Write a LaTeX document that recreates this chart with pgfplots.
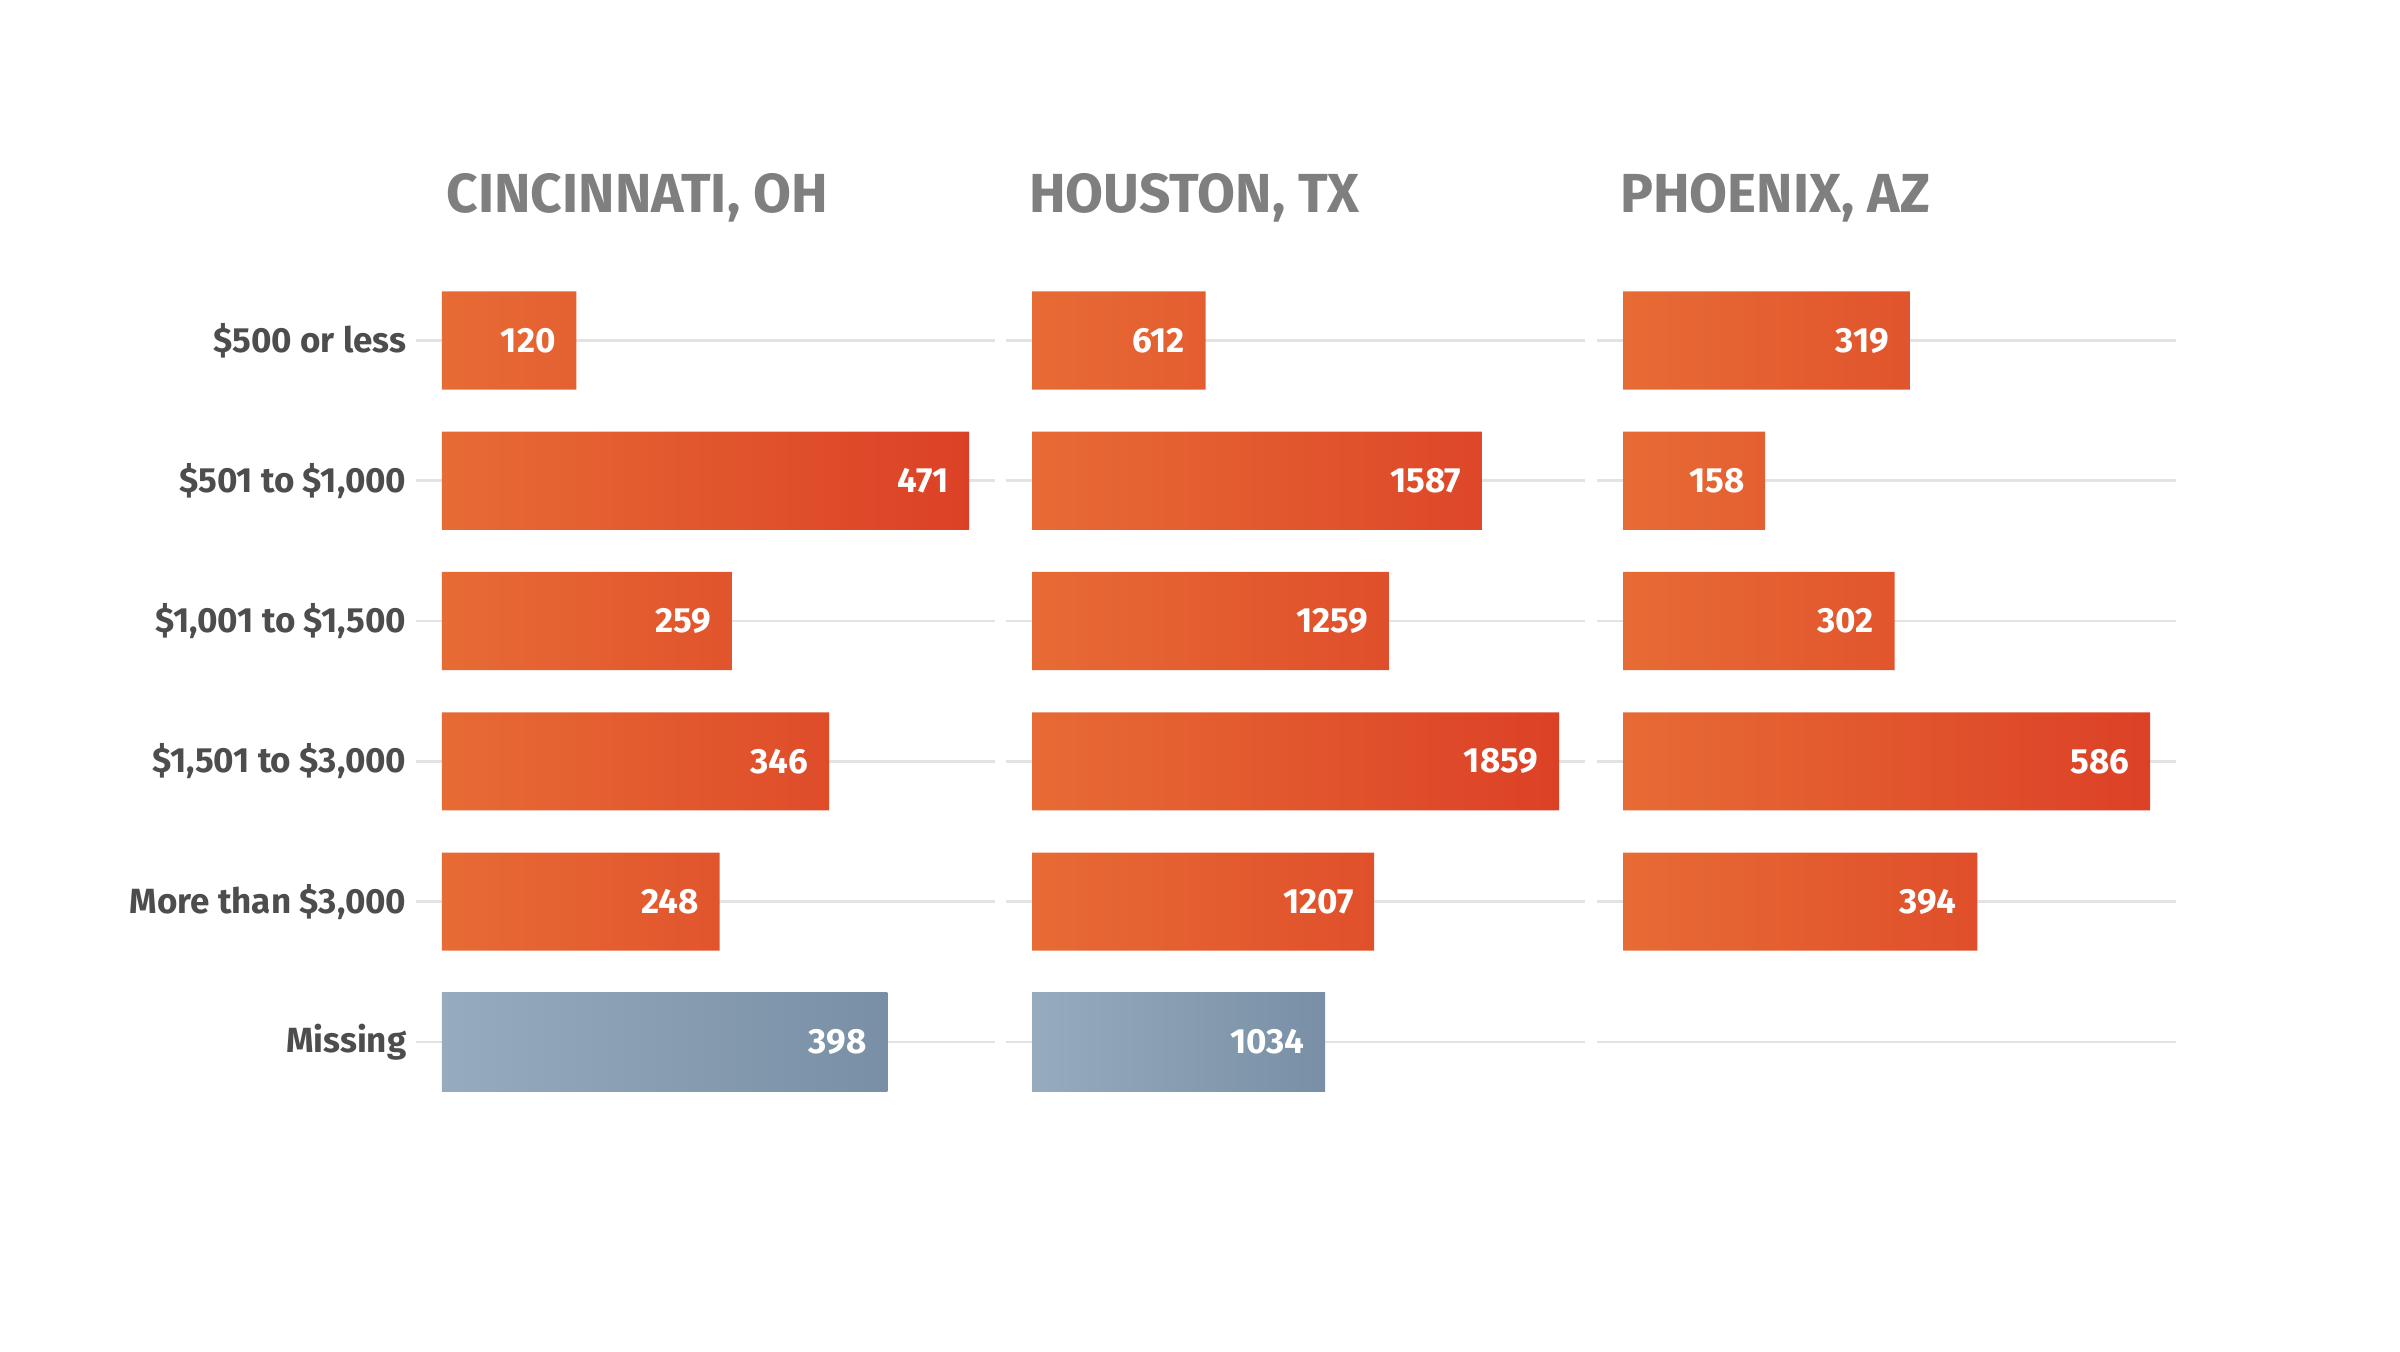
\documentclass[border=0pt]{standalone}
\usepackage{fontspec}
\setmainfont{Fira Sans}
\usepackage{pgfplots}
\pgfplotsset{compat=1.18}

\definecolor{barL}{HTML}{E76B35}
\definecolor{barR}{HTML}{DC4126}
\definecolor{misL}{HTML}{97ABBE}
\definecolor{misR}{HTML}{788FA5}
\definecolor{gridgray}{HTML}{E3E3E3}
\definecolor{labgray}{HTML}{4D4D4D}
\definecolor{titgray}{HTML}{7F7F7F}

% one px of the 2400x1352 reference = 0.3pt
\pgfplotsset{
  panel/.style={
    scale only axis,
    width=173.7pt, height=252.5pt,
    anchor=north west,
    xbar, bar width=0.7,
    y dir=reverse,
    ymin=-0.5, ymax=5.5,
    ytick={0,1,2,3,4,5},
    xtick=\empty,
    ymajorgrids,
    grid style={draw=gridgray, line width=0.8pt},
    axis line style={draw=none},
    tick style={draw=none},
    clip=false,
    yticklabel style={inner sep=0pt, xshift=1.6pt, font=\fontsize{10.5}{12}\selectfont\bfseries, text=labgray},
    nodes near coords,
    point meta=x,
    every node near coord/.append style={anchor=east, inner sep=0pt, xshift=-6pt, text=white,
      font=\fontsize{10.5}{12}\selectfont\bfseries,
      /pgf/number format/.cd, fixed, precision=0, 1000 sep={}, assume math mode=true},
  },
  orange bars/.style={draw=none, bar shift=0pt, left color=barL, right color=barR},
  blue bars/.style={draw=none, bar shift=0pt, left color=misL, right color=misR},
}
\newcommand{\paneltitle}[2]{\node[anchor=base west, inner sep=0pt, xshift=#1, yshift=17.3pt,
  text=titgray, font=\fontsize{16.5}{18}\selectfont\bfseries] at (axis cs:0,-0.5) {#2};}

\begin{document}
\begin{tikzpicture}
\useasboundingbox (0,0) rectangle (720pt,-405.6pt);

\begin{axis}[panel, at={(124.8pt,-81.12pt)},
    xmin=-23.2, xmax=494.2,
    yticklabels={\$500 or less, \$501 to \$1{,}000, \$1{,}001 to \$1{,}500,
                 \$1{,}501 to \$3{,}000, More than \$3{,}000, Missing}]
  \addplot[orange bars] coordinates {(120,0) (471,1) (259,2) (346,3) (248,4)};
  \addplot[blue bars] coordinates {(398,5)};
  \paneltitle{1.2pt}{CINCINNATI, OH}
\end{axis}

\begin{axis}[panel, at={(301.8pt,-81.12pt)},
    xmin=-91.7, xmax=1950.6, yticklabels={}]
  \addplot[orange bars] coordinates {(612,0) (1587,1) (1259,2) (1859,3) (1207,4)};
  \addplot[blue bars] coordinates {(1034,5)};
  \paneltitle{-1pt}{HOUSTON, TX}
\end{axis}

\begin{axis}[panel, at={(479.1pt,-81.12pt)},
    xmin=-28.9, xmax=614.9, yticklabels={}]
  \addplot[orange bars] coordinates {(319,0) (158,1) (302,2) (586,3) (394,4)};
  \paneltitle{-1pt}{PHOENIX, AZ}
\end{axis}
\end{tikzpicture}
\end{document}
